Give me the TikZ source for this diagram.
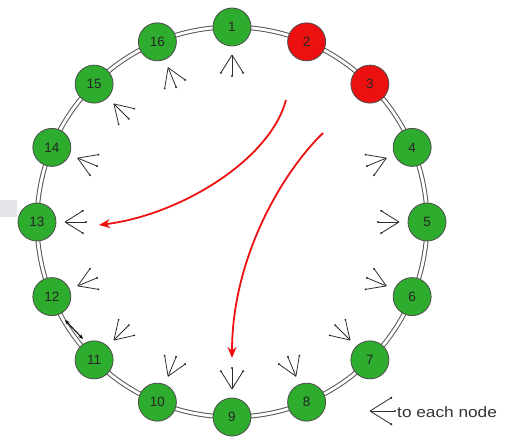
\documentclass[tikz,border=0pt]{standalone}
\usepackage{fontspec}
\setmainfont{Liberation Sans}
\usetikzlibrary{arrows.meta}
\definecolor{ngreen}{RGB}{46,172,46}
\definecolor{nred}{RGB}{236,16,16}
\definecolor{ringc}{RGB}{85,85,85}
\definecolor{fanc}{RGB}{45,45,45}
\definecolor{patch}{RGB}{228,228,234}
\tikzset{
  ringline/.style={draw=ringc, line width=1pt, double=white, double distance=2.8pt},
  ringnode/.style={circle, minimum size=38pt, inner sep=0pt, draw=black!70, line width=0.8pt,
    fill=ngreen, text=black!85, font=\fontsize{13.5}{14}\selectfont},
  hotnode/.style={ringnode, fill=nred},
  fanline/.style={draw=fanc, line width=0.8pt},
  redarrow/.style={draw=nred, line width=1.8pt, -{Stealth[length=11pt,width=9pt]}},
  swap/.style={draw=black, line width=1pt, {Stealth[length=5pt,width=4pt]}-{Stealth[length=5pt,width=4pt]}},
}
\newcommand\fanmark[4]{% x, y, direction (deg), length
  \begin{scope}[shift={(#1,#2)}, rotate=#3]
    \draw[fanline] (0pt,0pt) -- (#4,0pt);
    \draw[fanline] (0pt,0pt) -- (32:#4);
    \draw[fanline] (0pt,0pt) -- (-32:#4);
    \fill[fanc] (#4,0pt) circle (1.1pt);
    \fill[fanc] (32:#4) circle (1.1pt);
    \fill[fanc] (-32:#4) circle (1.1pt);
  \end{scope}}
\begin{document}
\begin{tikzpicture}[x=1pt, y=-1pt]
\useasboundingbox (0,0) rectangle (506,438);
\fill[patch] (0,200) rectangle (17,217);
% ring
\coordinate (C) at (232,222);
\draw[ringline] (C) circle[radius=195pt];
% nodes
\foreach \k in {1,...,16} {
  \pgfmathsetmacro\th{90-(\k-1)*22.5}
  \pgfmathsetmacro\nx{232+195*cos(\th)}
  \pgfmathsetmacro\ny{222-195*sin(\th)}
  \pgfmathsetmacro\fx{232+167*cos(\th)}
  \pgfmathsetmacro\fy{222-167*sin(\th)}
  \pgfmathsetmacro\fd{\th+180}
  \ifnum\k=2
    \node[hotnode] (n\k) at (\nx,\ny) {\k};
  \else\ifnum\k=3
    \node[hotnode] (n\k) at (\nx,\ny) {\k};
  \else
    \node[ringnode] (n\k) at (\nx,\ny) {\k};
    \fanmark{\fx}{\fy}{\fd}{21pt}
  \fi\fi
}
% swap arrow between 12 and 11
\coordinate (s1) at (65,320);
\coordinate (s2) at (83,339);
\draw[swap] (s1) -- (s2);
% red arrows
\coordinate (r1) at (286,100);
\coordinate (e1) at (99,225);
\draw[redarrow] (r1) .. controls (270,160) and (180,215) .. (e1);
\coordinate (r2) at (323,133);
\coordinate (e2) at (232,358);
\draw[redarrow] (r2) .. controls (280,175) and (232,260) .. (e2);
% legend
\fanmark{370}{411}{0}{25pt}
\node[anchor=west, inner sep=0pt, font=\fontsize{15}{17}\selectfont, text=black!80] (leg) at (397,412) {\scalebox{1.15}[1]{to each node}};
\end{tikzpicture}
\end{document}
